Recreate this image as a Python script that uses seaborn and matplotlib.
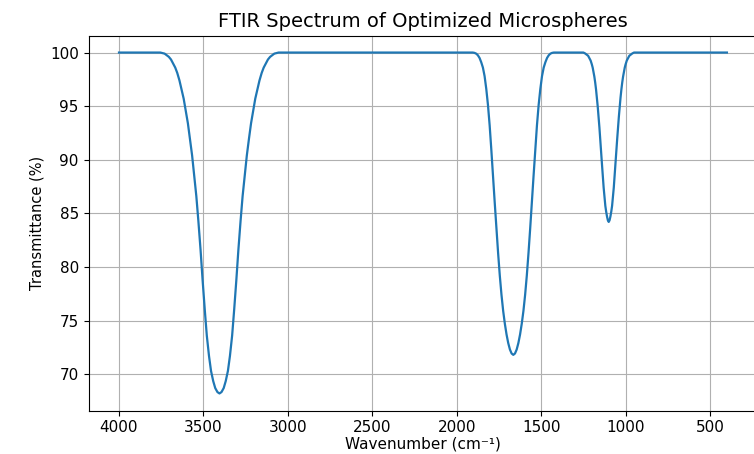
import matplotlib
matplotlib.use("Agg")
import matplotlib.pyplot as plt
import seaborn as sns
import pandas as pd

# values (cm^-1, % transmittance)
# flat baseline pieces
base_wn = [4000, 3800, 2500, 400]
base_t = [100.0, 100.0, 100.0, 100.0]

# O-H band around 3405
band1_wn = [
    3755, 3742, 3730, 3717, 3705, 3692, 3680, 3667, 3655, 3642, 3630, 3617,
    3605, 3592, 3580, 3567, 3555, 3542, 3530, 3517, 3505, 3492, 3480, 3467,
    3455, 3442, 3430, 3417, 3405, 3393, 3380, 3368, 3355, 3343, 3330, 3318,
    3305, 3293, 3280, 3268, 3255, 3243, 3230, 3218, 3205, 3193, 3180, 3168,
    3155, 3143, 3130, 3118, 3105, 3093, 3080, 3068, 3055,
]
band1_t = [
    100.0, 99.95, 99.9, 99.75, 99.6, 99.35, 99.0, 98.6, 98.1, 97.4, 96.6, 95.7,
    94.6, 93.4, 92.0, 90.4, 88.6, 86.6, 84.3, 81.6, 78.8, 76.0, 73.6, 71.7,
    70.3, 69.35, 68.7, 68.33, 68.2, 68.33, 68.7, 69.35, 70.3, 71.7, 73.6, 76.0,
    78.8, 81.6, 84.3, 86.6, 88.6, 90.4, 92.0, 93.4, 94.6, 95.7, 96.6, 97.4,
    98.1, 98.6, 99.0, 99.35, 99.6, 99.75, 99.9, 99.95, 100.0,
]

# C=O band around 1665
band2_wn = [
    1905, 1895, 1885, 1875, 1865, 1855, 1845, 1835, 1825, 1815, 1805, 1795,
    1785, 1775, 1765, 1755, 1745, 1735, 1725, 1715, 1705, 1695, 1685, 1675,
    1665, 1655, 1645, 1635, 1625, 1615, 1605, 1595, 1585, 1575, 1565, 1555,
    1545, 1535, 1525, 1515, 1505, 1495, 1485, 1475, 1465, 1455, 1445, 1435, 1425,
]
band2_t = [
    100.0, 99.97, 99.9, 99.75, 99.5, 99.1, 98.6, 97.8, 96.6, 95.1, 93.2, 90.9,
    88.5, 86.0, 83.6, 81.3, 79.2, 77.4, 75.9, 74.7, 73.7, 72.9, 72.3, 71.93,
    71.8, 71.93, 72.3, 72.9, 73.7, 74.7, 75.9, 77.4, 79.2, 81.3, 83.6, 86.0,
    88.5, 90.9, 93.2, 95.1, 96.6, 97.8, 98.6, 99.1, 99.5, 99.75, 99.9, 99.97, 100.0,
]

# C-O band around 1100
band3_wn = [
    1250, 1240, 1230, 1222, 1215, 1207, 1200, 1195, 1190, 1185, 1180, 1175,
    1170, 1165, 1160, 1155, 1150, 1145, 1140, 1135, 1130, 1125, 1120, 1115,
    1110, 1105, 1100, 1095, 1090, 1085, 1080, 1075, 1070, 1065, 1060, 1055,
    1050, 1045, 1040, 1035, 1030, 1025, 1020, 1015, 1010, 1005, 1000, 993,
    985, 978, 970, 960, 950,
]
band3_t = [
    100.0, 99.92, 99.8, 99.7, 99.5, 99.25, 98.9, 98.6, 98.2, 97.75, 97.2, 96.55,
    95.8, 94.95, 94.0, 93.0, 91.9, 90.75, 89.6, 88.45, 87.4, 86.5, 85.7, 85.15,
    84.7, 84.35, 84.2, 84.35, 84.7, 85.15, 85.7, 86.5, 87.4, 88.45, 89.6, 90.75,
    91.9, 93.0, 94.0, 94.95, 95.8, 96.55, 97.2, 97.75, 98.2, 98.6, 98.9, 99.25,
    99.5, 99.7, 99.8, 99.92, 100.0,
]

df = pd.DataFrame({
    "Wavenumber": base_wn + band1_wn + band2_wn + band3_wn,
    "Transmittance": base_t + band1_t + band2_t + band3_t,
}).sort_values("Wavenumber")

fig = plt.figure(figsize=(7.54, 4.54), dpi=100)
ax = fig.add_axes([0.1175, 0.0958, 0.8869, 0.826])
sns.lineplot(data=df, x="Wavenumber", y="Transmittance", ax=ax,
             color="#1f77b4", linewidth=1.6)
ax.invert_xaxis()
ax.set_title("FTIR Spectrum of Optimized Microspheres", fontsize=14)
ax.set_xlabel("Wavenumber (cm⁻¹)", fontsize=11, labelpad=1)
ax.set_ylabel("Transmittance (%)", fontsize=10.5)
ax.tick_params(labelsize=11)
ax.grid(True)
fig.savefig("out.png", dpi=100)
plt.close(fig)
